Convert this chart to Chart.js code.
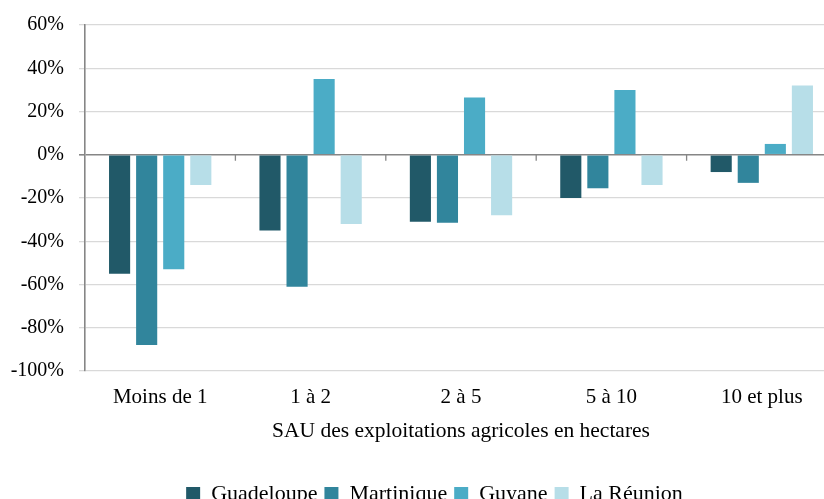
<!DOCTYPE html>
<html>
<head>
<meta charset="utf-8">
<script src="https://cdn.jsdelivr.net/npm/chart.js@4/dist/chart.umd.min.js"></script>
<style>
  html, body { margin: 0; padding: 0; background: #fff; overflow: hidden; }
  #wrap { width: 837px; height: 515px; position: relative; }
</style>
</head>
<body>
<div id="wrap"><canvas id="myChart"></canvas></div>
<script>
const categories = ["Moins de 1", "1 à 2", "2 à 5", "5 à 10", "10 et plus"];
const guadeloupe = [-55, -35, -31, -20, -8];
const martinique = [-88, -61, -31.5, -15.5, -13];
const guyane = [-53, 35, 26.5, 30, 5];
const reunion = [-14, -32, -28, -14, 32];
const yTicks = [60, 40, 20, 0, -20, -40, -60, -80, -100];

const font = "'Liberation Serif', 'Times New Roman', serif";

// petits traits sur l'axe 0 entre les catégories
const zeroTicks = {
  id: "zeroTicks",
  afterLayout(chart) {
    // la légende est un peu décalée vers la droite
    chart.legend.left += 16;
    chart.legend.right += 16;
  },
  afterDatasetsDraw(chart) {
    const x = chart.scales.x;
    const y0 = chart.scales.y.getPixelForValue(0);
    const c = chart.ctx;
    c.save();
    c.strokeStyle = "#868686";
    c.lineWidth = 1.3;
    for (let i = 1; i < categories.length; i++) {
      const px = (x.getPixelForTick(i - 1) + x.getPixelForTick(i)) / 2;
      c.beginPath();
      c.moveTo(px, y0);
      c.lineTo(px, y0 + 6);
      c.stroke();
    }
    c.restore();
  },
};

const ctx = document.getElementById("myChart");
new Chart(ctx, {
  type: "bar",
  data: {
    labels: categories,
    datasets: [
      { label: "Guadeloupe", data: guadeloupe, backgroundColor: "#215968" },
      { label: "Martinique", data: martinique, backgroundColor: "#31859C" },
      { label: "Guyane", data: guyane, backgroundColor: "#4BACC6" },
      { label: "La Réunion", data: reunion, backgroundColor: "#B7DEE8" },
    ],
  },
  options: {
    responsive: true,
    maintainAspectRatio: false,
    animation: false,
    datasets: { bar: { categoryPercentage: 0.72, barPercentage: 0.78 } },
    layout: { padding: { top: 24, right: 0, left: 0, bottom: 0 } },
    plugins: {
      legend: {
        position: "bottom",
        labels: {
          font: { family: font, size: 22 },
          color: "#000",
          boxWidth: 14,
          boxHeight: 14,
          padding: 7,
        },
      },
      tooltip: { enabled: false },
    },
    scales: {
      x: {
        grid: { display: false },
        border: { display: false },
        ticks: { font: { family: font, size: 21 }, color: "#000", padding: 6 },
        title: {
          display: true,
          text: "SAU des exploitations agricoles en hectares",
          font: { family: font, size: 21.5 },
          color: "#000",
          padding: { top: 2, bottom: 32 },
        },
      },
      y: {
        min: -100,
        max: 60,
        afterFit: (s) => { s.width = 85; },
        afterBuildTicks: (s) => { s.ticks = yTicks.map((v) => ({ value: v })); },
        grid: {
          color: (c) => (c.tick && c.tick.value === 0 ? "#868686" : "#d9d9d9"),
          lineWidth: (c) => (c.tick && c.tick.value === 0 ? 1.6 : 1.3),
          tickLength: 6,
        },
        border: { color: "#868686", width: 1.6 },
        ticks: {
          font: { family: font, size: 20, lineHeight: 1 },
          color: "#000",
          padding: 15,
          callback: (v) => v + "%",
        },
      },
    },
  },
  plugins: [zeroTicks],
});
</script>
</body>
</html>
